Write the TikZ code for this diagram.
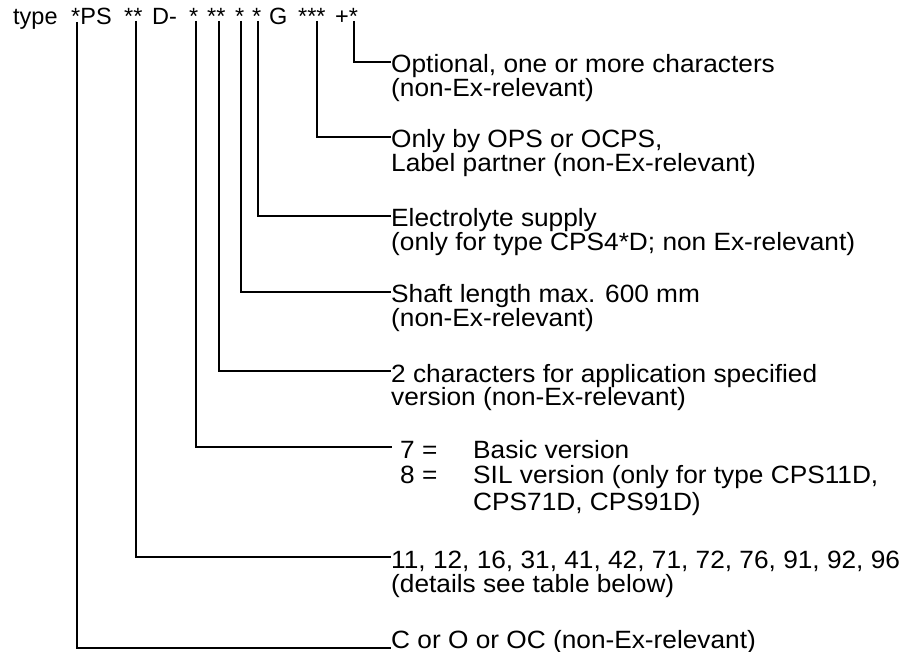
\documentclass[tikz,border=0pt]{standalone}
\usepackage{fontspec}
\setmainfont{Liberation Sans}
\newfontfamily\lblfont{Liberation Sans}[FakeStretch=1.05]
\begin{document}
\begin{tikzpicture}[x=1pt,y=-1pt,
  lbl/.style={anchor=base west,inner sep=0pt,font=\lblfont\fontsize{25}{27}\selectfont},
  tok/.style={anchor=base west,inner sep=0pt,font=\fontsize{23.5}{26}\selectfont},
  conn/.style={line width=1.3pt}]
\useasboundingbox (0,0) rectangle (916,652);
% top code string
\node[tok] (tType) at (13,25) {type};
\node[tok] (tPS) at (71,25) {*PS};
\node[tok] (tA2) at (124,25) {**};
\node[tok] (tD) at (152,25) {D-};
\node[tok] (tB1) at (189,25) {*};
\node[tok] (tB2) at (207,25) {**};
\node[tok] (tB3) at (235,25) {*};
\node[tok] (tB4) at (252,25) {*};
\node[tok] (tG) at (269,25) {G};
\node[tok] (tC3) at (298,25) {***};
\node[tok] (tPlus) at (335,25) {+*};
% connector start points
\coordinate (s1) at (354,21);
\coordinate (s2) at (317,21);
\coordinate (s3) at (258,21);
\coordinate (s4) at (241,21);
\coordinate (s5) at (219,21);
\coordinate (s6) at (196,21);
\coordinate (s7) at (136,21);
\coordinate (s8) at (77,22);
% connector end points
\coordinate (e1) at (391,62);
\coordinate (e2) at (391,137);
\coordinate (e3) at (391,216);
\coordinate (e4) at (391,292);
\coordinate (e5) at (391,371);
\coordinate (e6) at (392,447);
\coordinate (e7) at (391,557);
\coordinate (e8) at (391,648);
% labels
\node[lbl] (l1a) at (391,73) {Optional, one or more characters};
\node[lbl] (l1b) at (391,97) {(non-Ex-relevant)};
\node[lbl] (l2a) at (391,148) {Only by OPS or OCPS,};
\node[lbl] (l2b) at (391,172) {Label partner (non-Ex-relevant)};
\node[lbl] (l3a) at (391,227) {Electrolyte supply};
\node[lbl] (l3b) at (391,251) {(only for type CPS4*D; non Ex-relevant)};
\node[lbl] (l4a) at (391,303) {Shaft length max. 600 mm};
\node[lbl] (l4b) at (391,327) {(non-Ex-relevant)};
\node[lbl] (l5a) at (391,382) {2 characters for application specified};
\node[lbl] (l5b) at (391,406) {version (non-Ex-relevant)};
\node[lbl] (l6a) at (400,458) {7 =};
\node[lbl] (l6b) at (473,458) {Basic version};
\node[lbl] (l6c) at (400,483) {8 =};
\node[lbl] (l6d) at (473,483) {SIL version (only for type CPS11D,};
\node[lbl] (l6e) at (473,510) {CPS71D, CPS91D)};
\node[lbl] (l7a) at (391,568) {11, 12, 16, 31, 41, 42, 71, 72, 76, 91, 92, 96};
\node[lbl] (l7b) at (391,592) {(details see table below)};
\node[lbl] (l8a) at (391,648) {C or O or OC (non-Ex-relevant)};
% connectors
\draw[conn] (s1) |- (e1);
\draw[conn] (s2) |- (e2);
\draw[conn] (s3) |- (e3);
\draw[conn] (s4) |- (e4);
\draw[conn] (s5) |- (e5);
\draw[conn] (s6) |- (e6);
\draw[conn] (s7) |- (e7);
\draw[conn] (s8) |- (e8);
\end{tikzpicture}
\end{document}
